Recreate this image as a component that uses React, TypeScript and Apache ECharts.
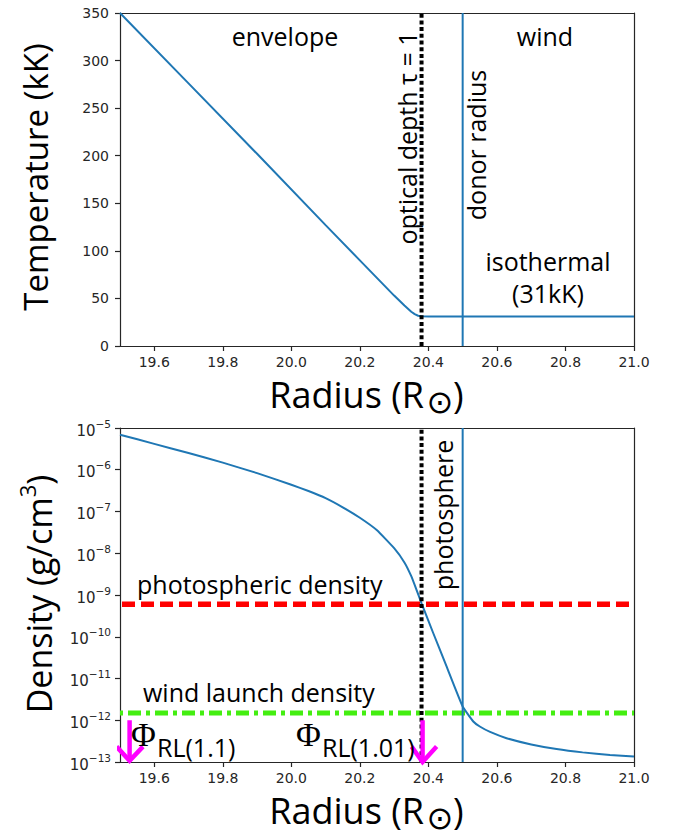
import React, { useEffect, useRef } from "react";
import * as echarts from "echarts";

// ---------- data ----------
const radiusTemp = [19.5, 19.7, 19.9, 20.1, 20.2, 20.3, 20.33, 20.35, 20.36, 20.37, 20.38, 20.4, 20.6, 20.8, 21.0];
const temperature = [350, 276, 202, 127, 90, 53, 42.5, 36, 33.5, 31.8, 31.2, 31, 31, 31, 31];

const radiusDens = [19.5, 19.6, 19.7, 19.8, 19.9, 20.0, 20.05, 20.1, 20.15, 20.2, 20.25, 20.3, 20.33, 20.35, 20.365, 20.38, 20.414, 20.453, 20.5, 20.531, 20.55, 20.58, 20.628, 20.7, 20.774, 20.85, 20.93, 21.0];
const density = [6.92e-6, 4.17e-6, 2.51e-6, 1.48e-6, 8.3e-7, 4.37e-7, 3.09e-7, 2.09e-7, 1.26e-7, 7.08e-8, 3.55e-8, 1.32e-8, 6.03e-9, 2.82e-9, 1.35e-9, 6.31e-10, 1.23e-10, 1.95e-11, 2.14e-12, 9.33e-13, 7.08e-13, 5.25e-13, 3.72e-13, 2.63e-13, 2.04e-13, 1.7e-13, 1.48e-13, 1.35e-13];

const tauOneRadius = 20.38;
const donorRadius = 20.5;
const photosphericDensity = 6e-10;
const windLaunchDensity = 1.5e-12;

const xRange = [19.5, 21.0];
const tempRange = [0, 350];
const densRange = [1e-13, 1e-5];

// magenta arrows: [stemTop, tip] and [leftArm, tip, rightArm]
const arrow1Stem = [[19.528, 1.0e-12], [19.528, 1.1e-13]];
const arrow1Head = [[19.49, 2.34e-13], [19.528, 1.07e-13], [19.567, 2.34e-13]];
const arrow2Stem = [[20.383, 1.0e-12], [20.383, 1.05e-13]];
const arrow2Head = [[20.351, 2.34e-13], [20.383, 1.0e-13], [20.424, 2.34e-13]];

const BLUE = "#1f77b4";
const SANS = "'Open Sans', sans-serif";
const TICK_FONT = "'DejaVu Sans', sans-serif";
const AXIS_COLOR = "#262626";

function xAxisBase(gridIndex: number) {
  return {
    type: "value",
    gridIndex,
    min: xRange[0],
    max: xRange[1],
    splitNumber: 8,
    axisLine: { show: true, lineStyle: { color: AXIS_COLOR, width: 1.2 } },
    axisTick: { show: true, inside: false, length: 5, lineStyle: { color: AXIS_COLOR, width: 1.2 } },
    axisLabel: {
      show: true,
      margin: 9,
      showMinLabel: false,
      fontSize: 14,
      fontFamily: TICK_FONT,
      color: AXIS_COLOR,
      formatter: (v: number) => (Math.abs(v - xRange[0]) < 1e-9 ? "" : v.toFixed(1)),
    },
    splitLine: { show: false },
  };
}

function frameAxis(kind: "x" | "y", gridIndex: number, extra: any) {
  return {
    gridIndex,
    position: kind === "x" ? "top" : "right",
    axisLine: { show: true, onZero: false, lineStyle: { color: AXIS_COLOR, width: 1.2 } },
    axisTick: { show: false },
    axisLabel: { show: false },
    splitLine: { show: false },
    ...extra,
  };
}

function txt(x: number, y: number, text: string, size: number, opts: any = {}) {
  const align = opts.align || "center";
  return {
    type: "text",
    x,
    y,
    rotation: opts.rotation || 0,
    z: 10,
    style: {
      text,
      fontSize: size,
      fontFamily: opts.family || SANS,
      fill: "#000",
      align,
      verticalAlign: "middle",
      textAlign: align,
      textVerticalAlign: "middle",
    },
  };
}

function radiusTitle(yMain: number) {
  return [
    txt(424, yMain, "Radius (R", 36, { align: "right" }),
    txt(440, yMain + 8, "\u2299", 32, { family: "'DejaVu Sans', sans-serif" }),
    txt(453, yMain, ")", 36, { align: "left" }),
  ];
}

export default function App() {
  const ref = useRef<HTMLDivElement>(null);

  useEffect(() => {
    if (!ref.current) return;
    const chart = echarts.init(ref.current, undefined, { renderer: "svg" });

    const toPairs = (xs: number[], ys: number[]) => xs.map((x, i) => [x, ys[i]]);

    const option: any = {
      animation: false,
      backgroundColor: "#ffffff",
      grid: [
        { left: 120, top: 13, width: 514, height: 333 },
        { left: 120, top: 428, width: 514, height: 334 },
      ],
      xAxis: [
        xAxisBase(0),
        xAxisBase(1),
        frameAxis("x", 0, { type: "value", min: xRange[0], max: xRange[1] }),
        frameAxis("x", 1, { type: "value", min: xRange[0], max: xRange[1] }),
      ],
      yAxis: [
        {
          type: "value",
          gridIndex: 0,
          min: tempRange[0],
          max: tempRange[1],
          interval: 50,
          axisLine: { show: true, onZero: false, lineStyle: { color: AXIS_COLOR, width: 1.2 } },
          axisTick: { show: true, length: 5, lineStyle: { color: AXIS_COLOR, width: 1.2 } },
          axisLabel: { margin: 11, fontSize: 14, fontFamily: TICK_FONT, color: AXIS_COLOR },
          splitLine: { show: false },
        },
        {
          type: "log",
          logBase: 10,
          gridIndex: 1,
          min: densRange[0],
          max: densRange[1],
          splitNumber: 8,
          axisLine: { show: true, onZero: false, lineStyle: { color: AXIS_COLOR, width: 1.2 } },
          axisTick: { show: true, length: 5, lineStyle: { color: AXIS_COLOR, width: 1.2 } },
          axisLabel: {
            margin: 9,
            color: AXIS_COLOR,
            formatter: (v: number) => {
              const e = Math.round(Math.log10(v));
              return "{b|10}{e|\u2212" + Math.abs(e) + "}";
            },
            rich: {
              b: { fontSize: 15, fontFamily: TICK_FONT, color: AXIS_COLOR, lineHeight: 20, verticalAlign: "bottom" },
              e: { fontSize: 10.5, fontFamily: TICK_FONT, color: AXIS_COLOR, lineHeight: 12, verticalAlign: "top" },
            },
          },
          splitLine: { show: false },
        },
        frameAxis("y", 0, { type: "value", min: tempRange[0], max: tempRange[1] }),
        frameAxis("y", 1, { type: "log", logBase: 10, min: densRange[0], max: densRange[1] }),
      ],
      series: [
        {
          type: "line",
          xAxisIndex: 0,
          yAxisIndex: 0,
          data: toPairs(radiusTemp, temperature),
          symbol: "none",
          lineStyle: { color: BLUE, width: 2 },
          z: 3,
        },
        {
          type: "line",
          xAxisIndex: 0,
          yAxisIndex: 0,
          data: [[donorRadius, tempRange[0]], [donorRadius, tempRange[1]]],
          symbol: "none",
          lineStyle: { color: BLUE, width: 2 },
          z: 3,
        },
        {
          type: "line",
          xAxisIndex: 0,
          yAxisIndex: 0,
          data: [[tauOneRadius, tempRange[0]], [tauOneRadius, tempRange[1]]],
          symbol: "none",
          lineStyle: { color: "#000", width: 4, type: [4, 2.7] },
          z: 4,
        },
        // bottom panel
        {
          type: "line",
          xAxisIndex: 1,
          yAxisIndex: 1,
          data: [[xRange[0], photosphericDensity], [xRange[1], photosphericDensity]],
          symbol: "none",
          lineStyle: { color: "#ff0000", width: 5.5, type: [13, 6], dashOffset: -2 },
          z: 2,
        },
        {
          type: "line",
          xAxisIndex: 1,
          yAxisIndex: 1,
          data: [[xRange[0], windLaunchDensity], [xRange[1], windLaunchDensity]],
          symbol: "none",
          lineStyle: { color: "#44ee11", width: 5, type: [13, 5, 4, 5], dashOffset: -8 },
          z: 2,
        },
        {
          type: "line",
          xAxisIndex: 1,
          yAxisIndex: 1,
          data: toPairs(radiusDens, density),
          symbol: "none",
          smooth: 0.12,
          lineStyle: { color: BLUE, width: 2 },
          z: 3,
        },
        {
          type: "line",
          xAxisIndex: 1,
          yAxisIndex: 1,
          data: [[donorRadius, densRange[0]], [donorRadius, densRange[1]]],
          symbol: "none",
          lineStyle: { color: BLUE, width: 2 },
          z: 3,
        },
        {
          type: "line",
          xAxisIndex: 1,
          yAxisIndex: 1,
          data: [[tauOneRadius, densRange[0]], [tauOneRadius, densRange[1]]],
          symbol: "none",
          lineStyle: { color: "#000", width: 4, type: [4, 2.7] },
          z: 4,
        },
        ...[arrow1Stem, arrow1Head, arrow2Stem, arrow2Head].map((d) => ({
          type: "line",
          xAxisIndex: 1,
          yAxisIndex: 1,
          data: d,
          symbol: "none",
          clip: false,
          lineStyle: { color: "#ff00ff", width: 4.5, cap: "butt", join: "miter" },
          z: 6,
        })),
      ],
      graphic: [
        // axis titles
        txt(35, 177, "Temperature (kK)", 33, { rotation: Math.PI / 2 }),
        {
          type: "text",
          x: 36,
          y: 594,
          rotation: Math.PI / 2,
          style: {
            text: "{a|Density (g/cm}{s|3}{a|)}",
            rich: {
              a: { fontSize: 34, fontFamily: SANS, fill: "#000", color: "#000", lineHeight: 40, verticalAlign: "bottom" },
              s: { fontSize: 22, fontFamily: SANS, fill: "#000", color: "#000", lineHeight: 22, verticalAlign: "top" },
            },
            align: "center",
            verticalAlign: "middle",
            textAlign: "center",
            textVerticalAlign: "middle",
          },
        },
        ...radiusTitle(394),
        ...radiusTitle(810),
        // top panel annotations
        txt(285, 36, "envelope", 25),
        txt(545, 36, "wind", 25),
        txt(548, 261, "isothermal", 25),
        txt(548, 293, "(31kK)", 25),
        txt(407, 138, "optical depth \u03c4 = 1", 25, { rotation: Math.PI / 2 }),
        txt(476, 145, "donor radius", 25, { rotation: Math.PI / 2 }),
        // bottom panel annotations
        txt(443, 515, "photosphere", 25, { rotation: Math.PI / 2 }),
        txt(137, 584, "photospheric density", 25, { align: "left" }),
        txt(143, 692, "wind launch density", 25, { align: "left" }),
        txt(131, 734, "\u03a6", 34, { align: "left", family: "'Liberation Serif', serif" }),
        txt(157, 747, "RL(1.1)", 25, { align: "left" }),
        txt(296, 734, "\u03a6", 34, { align: "left", family: "'Liberation Serif', serif" }),
        txt(322, 747, "RL(1.01)", 25, { align: "left" }),
      ],
    };

    chart.setOption(option);
    return () => chart.dispose();
  }, []);

  return <div ref={ref} style={{ position: "fixed", left: 0, top: 0, width: 678, height: 836, background: "#fff" }} />;
}
